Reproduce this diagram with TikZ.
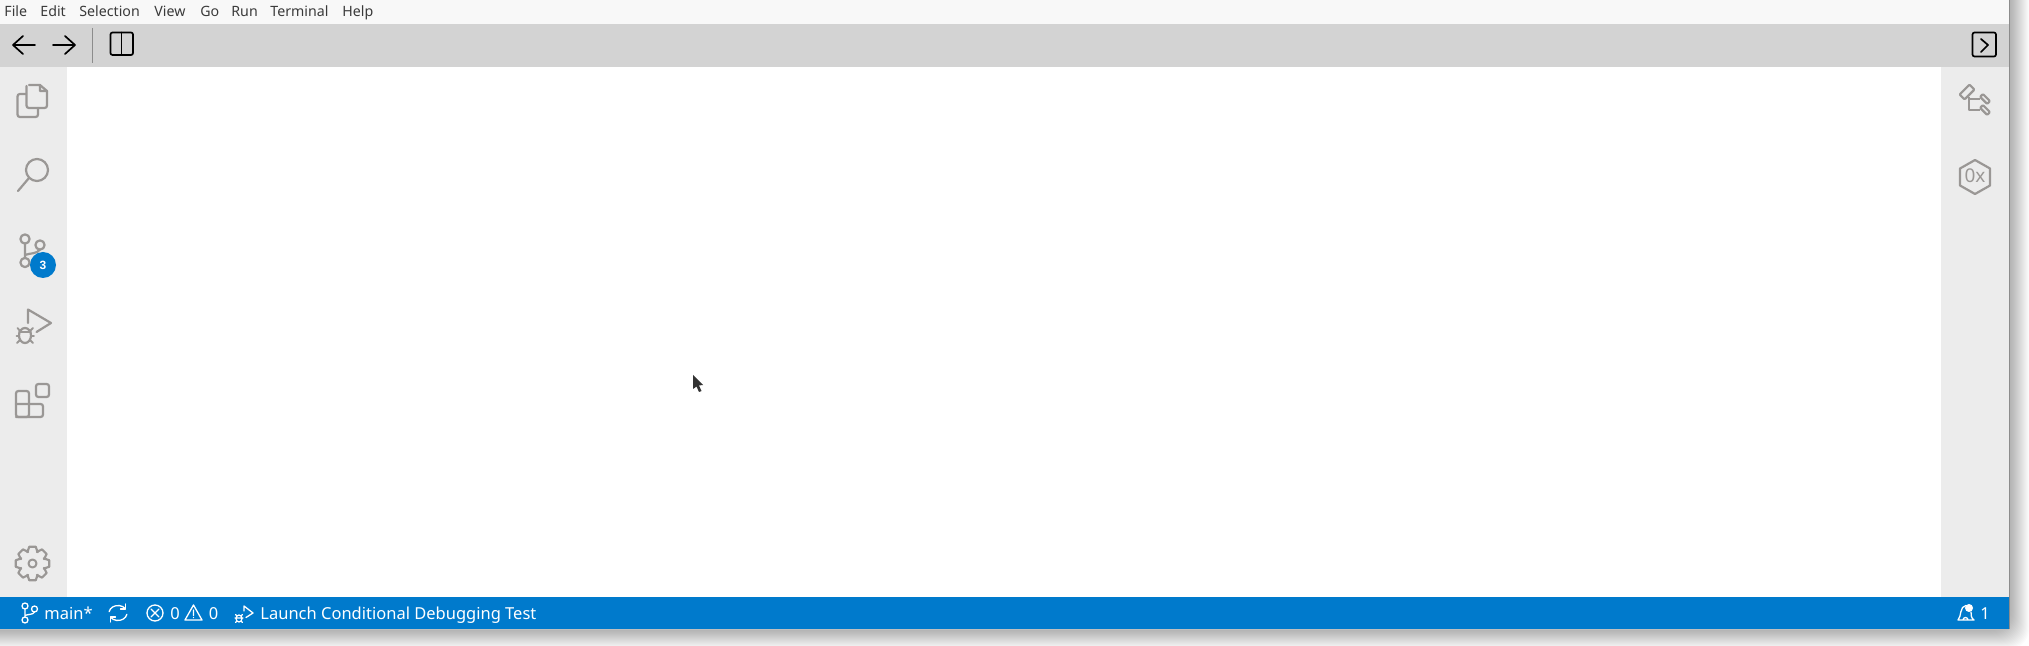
\documentclass[tikz,border=0pt]{standalone}
\usepackage{fontspec}
\setmainfont{Noto Sans}
\newfontfamily\badgefont{Liberation Sans}
\definecolor{menubg}{HTML}{F8F8F8}
\definecolor{toolbg}{HTML}{D3D3D3}
\definecolor{sidebg}{HTML}{ECECEC}
\definecolor{statusbg}{HTML}{007ACC}
\definecolor{icongray}{HTML}{9A9795}
\definecolor{menutext}{HTML}{3A3A3A}
\tikzset{
  menuitem/.style={anchor=base west,inner sep=0pt,text=menutext,font=\fontsize{7.1}{8}\selectfont},
  statustext/.style={anchor=base west,inner sep=0pt,text=white,font=\fontsize{8.25}{9}\selectfont},
  sideicon/.style={draw=icongray,line width=1.1pt,line cap=round,line join=round},
  toolicon/.style={draw=black,line width=0.85pt,line cap=round,line join=round},
  staticon/.style={draw=white,line width=0.65pt,line cap=round,line join=round},
}
\begin{document}
\begin{tikzpicture}[x=0.5pt,y=-0.5pt]
\useasboundingbox (0,0) rectangle (2029,646);
\fill[white] (0,0) rectangle (2029,646);
% drop shadow
\foreach \s in {1,...,20}{
  \fill[black,opacity=0.016,rounded corners=10pt] (-40,-40) rectangle ({2009+21-\s},{629+21-\s});
}
% window
\fill[white] (0,0) rectangle (2009,629);
\fill[menubg] (0,0) rectangle (2009,24);
\fill[toolbg] (0,24) rectangle (2009,67);
\fill[sidebg] (0,67) rectangle (67,597);
\fill[sidebg] (1941,67) rectangle (2009,597);
\fill[statusbg] (0,597) rectangle (2009,629);
\draw[color=black!45,line width=0.5pt] (2009,0) -- (2009,629);
\draw[color=black!25,line width=0.5pt] (0,629) -- (2009,629);
% menu
\path (4,17) node[menuitem] (mfile) {File};
\path (40,17) node[menuitem] (medit) {Edit};
\path (79,17) node[menuitem] (msel) {Selection};
\path (154,17) node[menuitem] (mview) {View};
\path (200,17) node[menuitem] (mgo) {Go};
\path (231,17) node[menuitem] (mrun) {Run};
\path (270,17) node[menuitem] (mterm) {Terminal};
\path (342,17) node[menuitem] (mhelp) {Help};
% toolbar
\draw[toolicon] (35,45) -- (13,45) (23,36) -- (13,45) -- (23,54);
\draw[toolicon] (53,45) -- (75,45) (65,36) -- (75,45) -- (65,54);
\draw[color=black!45,line width=0.5pt] (92.5,28) -- (92.5,63);
\draw[toolicon,rounded corners=1pt] (110.5,32.5) rectangle (133,55);
\draw[toolicon] (121.5,32.5) -- (121.5,55);
\draw[toolicon,rounded corners=1pt] (1972.5,32.5) rectangle (1996,56.5);
\draw[toolicon] (1981,39) -- (1988,45) -- (1981,52);
% files icon
\draw[sideicon,rounded corners=1.2pt] (26.5,86) -- (26.5,108) -- (47,108) -- (47,91);
\draw[sideicon] (47,91) -- (40,85) -- (29,85) (40,85) -- (40,91) -- (47,91);
\draw[sideicon,rounded corners=1.2pt] (26,94) -- (17.5,94) -- (17.5,117) -- (38,117) -- (38,108);
% search icon
\draw[sideicon] (37,170) circle (11);
\draw[sideicon] (29,178) -- (18,191);
% git icon
\draw[sideicon] (25,239) circle (4.6) (40,245) circle (4.6) (25,262.5) circle (4.6);
\draw[sideicon] (25,243.6) -- (25,258) (25,255) .. controls (30,253) and (37,254) .. (40,249.6);
\fill[statusbg] (43,265) circle (13);
\node[inner sep=0pt,text=white,font=\badgefont\fontsize{6}{7}\selectfont\bfseries] (gitbadge) at (43,265) {3};
% debug icon
\draw[sideicon] (28,323) -- (28,309.5) -- (51,323) -- (36.5,332);
\draw[sideicon] (25,335.5) ellipse (6 and 7.5);
\draw[sideicon,line width=0.9pt] (19,332) -- (31,332) (17.5,328) -- (20,331) (33,328) -- (30,331) (16.5,336) -- (19,336) (31,336) -- (34,336) (17,343) -- (20,340) (33,343) -- (30,340);
% extensions icon
\draw[sideicon,rounded corners=1.2pt] (16,391) rectangle (29,417);
\draw[sideicon,rounded corners=1.2pt] (16,404) -- (43,404) -- (43,417) -- (16,417);
\draw[sideicon,rounded corners=1.2pt] (36,384) rectangle (49,397);
% gear
\begin{scope}[shift={(32.5,563.5)}]
\foreach \a in {0,45,...,315}{
  \draw[sideicon] (\a-24:12.5) -- (\a-11:17) -- (\a+11:17) -- (\a+24:12.5);
  \draw[sideicon] (\a+24:12.5) -- (\a+21:12.5);
}
\draw[sideicon,line width=1pt] (0,0) circle (4);
\end{scope}
% right icons
\begin{scope}[shift={(1967,92)},rotate=45]
\draw[sideicon,rounded corners=0.5pt] (-7,-3.5) rectangle (7,3.5);
\end{scope}
\begin{scope}[shift={(1985,99)},rotate=-45]
\draw[sideicon,rounded corners=0.5pt] (-5,-2) rectangle (5,2);
\end{scope}
\begin{scope}[shift={(1985,110)},rotate=-45]
\draw[sideicon,rounded corners=0.5pt] (-5,-2) rectangle (5,2);
\end{scope}
\draw[sideicon,line cap=butt] (1969,97) -- (1969,110) -- (1980,110) (1969,99) -- (1980,99);
\draw[sideicon] (1975,160) -- (1990,168.5) -- (1990,185.5) -- (1975,194) -- (1960,185.5) -- (1960,168.5) -- cycle;
\node[inner sep=0pt,text=icongray,font=\fontsize{9.5}{10}\selectfont] (hexlabel) at (1975,176) {0x};
% status bar
\draw[staticon] (25,606) circle (3) (34.5,609) circle (3) (25,620) circle (3);
\draw[staticon] (25,609) -- (25,617) (25,615.5) .. controls (28,614) and (33,615) .. (34.5,612);
\path (44,619) node[statustext] (tbranch) {main*};
% sync
\draw[staticon] (118,613) ++(-170:9 and 7.5) arc (-170:-35:9 and 7.5);
\draw[staticon] (125.5,604) -- (125.5,609) -- (120.5,609);
\draw[staticon] (118,613) ++(10:9 and 7.5) arc (10:145:9 and 7.5);
\draw[staticon] (110.5,622) -- (110.5,617) -- (115.5,617);
\draw[staticon] (155,613) circle (8) (151,609) -- (159,617) (159,609) -- (151,617);
\path (170,619) node[statustext] (terr) {0};
\draw[staticon] (193.5,605) -- (202,620) -- (185,620) -- cycle (193.5,610) -- (193.5,615.5) (193.5,617.5) -- (193.5,617.6);
\path (208.5,619) node[statustext] (twarn) {0};
\draw[staticon] (244,611) -- (244,606) -- (253,613) -- (246,617.5);
\draw[staticon] (239,618.5) ellipse (3 and 3.5) (235.5,614.5) -- (237,616) (242.5,614.5) -- (241,616) (235,618) -- (243,618) (235.5,622.5) -- (237,621) (242.5,622.5) -- (241,621);
\path (260,619) node[statustext] (tdebug) {Launch Conditional Debugging Test};
% bell
\draw[staticon] (1958,620) .. controls (1961.5,617) and (1959.5,606) .. (1966,605.5) (1971,612) .. controls (1971,615) and (1971,618) .. (1974,620) -- (1958,620) (1963,620) arc (180:0:2.5 and -2.5);
\fill[white] (1969,608) circle (4);
\path (1980,619) node[statustext] (tbell) {1};
% cursor
\fill[black!80] (693,375) -- (693,389) -- (696.5,386.5) -- (699,392) -- (701.5,391) -- (699,385.5) -- (703,385) -- cycle;
\end{tikzpicture}
\end{document}
